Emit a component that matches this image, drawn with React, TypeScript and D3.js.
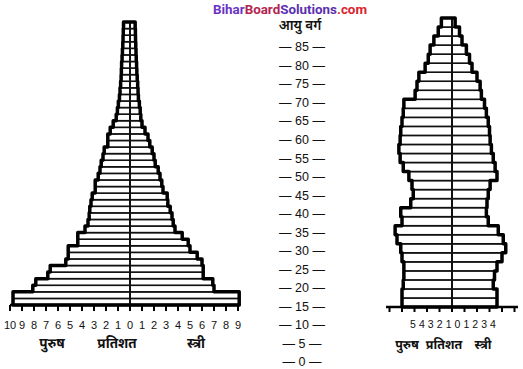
import React from "react";
import * as d3 from "d3";

// ---- Data (percent of population per age row, bottom row first) ----
const leftMale = [
  9.75, 9.75, 8.1, 7.85, 6.85, 6.65, 5.35, 5.15, 5.15, 4.35, 4.35, 3.75, 3.5, 3.4, 3.35, 3.25,
  3.15, 2.9, 2.9, 2.65, 2.5, 2.4, 2.25, 2.15, 1.85, 1.85, 1.65, 1.4, 1.15, 1.05, 0.97, 0.88,
  0.83, 0.78, 0.74, 0.72, 0.7, 0.66, 0.63, 0.6, 0.58, 0.56, 0.54,
];
const leftFemale = [
  9.1, 9.1, 7.0, 6.9, 6.1, 6.1, 6.0, 5.6, 5.0, 4.85, 4.35, 3.75, 3.6, 3.5, 3.35, 3.15,
  3.1, 2.75, 2.65, 2.5, 2.35, 2.1, 2.0, 1.85, 1.65, 1.5, 1.25, 1.0, 0.9, 0.85, 0.78, 0.7,
  0.67, 0.64, 0.6, 0.57, 0.55, 0.52, 0.5, 0.48, 0.46, 0.45, 0.43,
];
const rightMale = [
  4.0, 4.0, 3.9, 3.85, 3.85, 4.0, 4.1, 4.4, 4.55, 4.0, 4.1, 3.3, 3.1, 3.2, 3.45, 3.9,
  4.15, 4.25, 4.15, 4.1, 4.0, 3.9, 3.85, 2.95, 2.8, 2.65, 2.15, 1.9, 1.75, 1.45, 1.1, 0.85,
];
const rightFemale = [
  3.6, 3.6, 3.3, 3.4, 3.6, 4.0, 4.3, 4.1, 3.7, 2.9, 2.75, 2.8, 2.9, 3.05, 3.6, 3.45,
  3.3, 3.15, 3.05, 3.0, 2.9, 2.75, 2.6, 2.35, 2.25, 2.0, 1.6, 1.4, 1.15, 0.8, 0.6, 0.25,
];
const leftTicks = d3.range(-10, 10); // -10 .. 9
const rightTicks = d3.range(-5, 6); // -5 .. 5
const rightTickLabels = [-5, -4, -3, -2, -1, 0, 1, 2, 3, 4];
const ageTicks = d3.range(0, 90, 5);
const titleMale = "पुरुष";
const titlePct = "प्रतिशत";
const titleFemale = "स्त्री";
const ageTitle = "आयु वर्ग";

const DEV = "'Noto Sans Devanagari', 'Lohit Devanagari', 'Mukta', FreeSans, 'Noto Sans', sans-serif";
const NUM = "'Liberation Sans', Arial, sans-serif";

type PyrProps = {
  male: number[];
  female: number[];
  x: d3.ScaleLinear<number, number>;
  bottom: number;
  top: number;
};

function Pyramid({ male, female, x, bottom, top }: PyrProps) {
  const n = male.length;
  const y = d3.scaleBand<number>().domain(d3.range(n)).range([bottom, top]);
  const bw = y.bandwidth();
  const pts: [number, number][] = [];
  for (let i = 0; i < n; i++) {
    pts.push([x(-male[i]), (y(i) as number) + bw]);
    pts.push([x(-male[i]), y(i) as number]);
  }
  for (let i = n - 1; i >= 0; i--) {
    pts.push([x(female[i]), y(i) as number]);
    pts.push([x(female[i]), (y(i) as number) + bw]);
  }
  const outline = d3.line()(pts) + "Z";
  return (
    <g>
      {d3.range(n).map((i) => (
        <g key={i}>
          <rect x={x(-male[i])} y={y(i)} width={x(0) - x(-male[i])} height={bw}
            fill="#fff" stroke="#111" strokeWidth={1.6} />
          <rect x={x(0)} y={y(i)} width={x(female[i]) - x(0)} height={bw}
            fill="#fff" stroke="#111" strokeWidth={1.6} />
        </g>
      ))}
      <line x1={x(0)} x2={x(0)} y1={bottom} y2={top} stroke="#111" strokeWidth={2} />
      <path d={outline} fill="none" stroke="#000" strokeWidth={3.5} strokeLinejoin="round" />
    </g>
  );
}

export default function App() {
  // left pyramid
  const xL = d3.scaleLinear().domain([-10, 10]).range([10, 250]);
  const bottomL = 305;
  // right pyramid
  const xR = d3.scaleLinear().domain([-5, 5]).range([389.5, 514.5]);
  const bottomR = 307;
  const labelR = d3.scaleLinear().domain([-5, 4]).range([413, 493]);
  // age axis
  const yAge = d3.scaleLinear().domain([0, 85]).range([362, 47]);

  return (
    <svg width={523} height={369} style={{ position: "absolute", left: 0, top: 0, display: "block", background: "#fff" }}>
      <rect width={523} height={369} fill="#fff" />
      {/* watermark */}
      <text x={213} y={14} fontFamily="Roboto, 'Liberation Sans', sans-serif" fontWeight={700} fontSize={13.5}
        textLength={154} lengthAdjust="spacingAndGlyphs">
        <tspan fill="#6a33c4">Bihar</tspan>
        <tspan fill="#b3244f">Board</tspan>
        <tspan fill="#5b2fb0">Solutions</tspan>
        <tspan fill="#d9232e">.com</tspan>
      </text>

      {/* left pyramid */}
      <Pyramid male={leftMale} female={leftFemale} x={xL} bottom={bottomL} top={22} />
      <line x1={xL(-10)} x2={xL(9.2)} y1={bottomL} y2={bottomL} stroke="#000" strokeWidth={2.5} />
      {leftTicks.map((t) => (
        <g key={t}>
          <line x1={xL(t)} x2={xL(t)} y1={bottomL} y2={bottomL + 6} stroke="#000" strokeWidth={2} />
          <text x={xL(t)} y={329} textAnchor="middle" fontFamily={NUM} fontSize={11} fill="#111">
            {Math.abs(t)}
          </text>
        </g>
      ))}
      <text x={52} y={348} textAnchor="middle" fontFamily={DEV} fontWeight={700} fontSize={13.5} fill="#111">{titleMale}</text>
      <text x={117} y={348} textAnchor="middle" fontFamily={DEV} fontWeight={700} fontSize={13.5} fill="#111">{titlePct}</text>
      <text x={196} y={348} textAnchor="middle" fontFamily={DEV} fontWeight={700} fontSize={13.5} fill="#111">{titleFemale}</text>

      {/* age axis */}
      <text x={300} y={30} textAnchor="middle" fontFamily={DEV} fontWeight={600} fontSize={13.5} fill="#111">{ageTitle}</text>
      {ageTicks.map((a) => (
        <text key={a} x={302} y={yAge(a)} dy="0.35em" textAnchor="middle" fontFamily={NUM} fontSize={12.5} fill="#111">
          {"— " + a + " —"}
        </text>
      ))}

      {/* right pyramid */}
      <Pyramid male={rightMale} female={rightFemale} x={xR} bottom={bottomR} top={18} />
      <line x1={386} x2={518} y1={bottomR} y2={bottomR} stroke="#000" strokeWidth={2.5} />
      {rightTicks.map((t) => (
        <line key={t} x1={xR(t)} x2={xR(t)} y1={bottomR} y2={bottomR + 5} stroke="#000" strokeWidth={2} />
      ))}
      {rightTickLabels.map((t) => (
        <text key={t} x={labelR(t)} y={328} textAnchor="middle" fontFamily={NUM} fontSize={10.5} fill="#111">
          {Math.abs(t)}
        </text>
      ))}
      <text x={407} y={349} textAnchor="middle" fontFamily={DEV} fontWeight={700} fontSize={12.5} fill="#111">{titleMale}</text>
      <text x={444} y={349} textAnchor="middle" fontFamily={DEV} fontWeight={700} fontSize={12.5} fill="#111">{titlePct}</text>
      <text x={483} y={349} textAnchor="middle" fontFamily={DEV} fontWeight={700} fontSize={12.5} fill="#111">{titleFemale}</text>
    </svg>
  );
}
